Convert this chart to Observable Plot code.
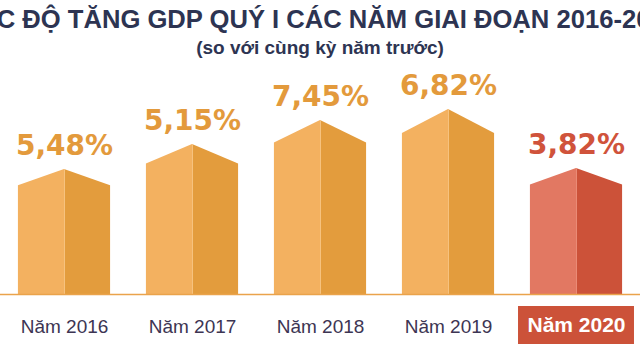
<!DOCTYPE html>
<html><head><meta charset="utf-8">
<script src="https://cdn.jsdelivr.net/npm/d3@7"></script>
<script src="https://cdn.jsdelivr.net/npm/@observablehq/plot@0.6"></script>
<style>
body{margin:0;background:#fff;}
#wrap{position:relative;width:640px;height:360px;overflow:hidden;}
#chart{position:absolute;left:0;top:0;}
#title{position:absolute;left:-200px;width:1040px;top:5px;text-align:center;white-space:nowrap;font:bold 25.6px "Liberation Sans",Arial,sans-serif;color:#2d3452;}
#sub{position:absolute;left:0;width:640px;top:37px;text-align:center;white-space:nowrap;font:bold 19px "Liberation Sans",Arial,sans-serif;color:#2d3452;}
</style></head><body>
<div id="wrap">
<div id="chart"></div>
<div id="title">TỐC ĐỘ TĂNG GDP QUÝ I CÁC NĂM GIAI ĐOẠN 2016-2020</div>
<div id="sub">(so với cùng kỳ năm trước)</div>
</div>
<script>
// Data read from the infographic
const years = ["Năm 2016", "Năm 2017", "Năm 2018", "Năm 2019", "Năm 2020"];
const growth = [5.48, 5.15, 7.45, 6.82, 3.82];           // % GDP growth, Q1
const valueLabels = ["5,48%", "5,15%", "7,45%", "6,82%", "3,82%"];
const barLevel = [6.25, 7.5, 8.7, 9.25, 6.3];          // height each bar is drawn at in the infographic
const highlight = [false, false, false, false, true];

const half = 0.36;   // half bar width in x units
const roof = 0.13;   // roof rise as share of bar level

const bars = years.map((year, i) => ({
  i, year, value: growth[i], label: valueLabels[i], peak: barLevel[i],
  side: barLevel[i] * (1 - roof), hl: highlight[i]
}));

const faces = bars.flatMap(b => {
  const light = b.hl ? "#e27862" : "#f3b160";
  const dark = b.hl ? "#cc5239" : "#e39c3d";
  return [
    {face: b.i + "L", x: b.i - half, y: b.side, color: light},
    {face: b.i + "L", x: b.i, y: b.peak, color: light},
    {face: b.i + "R", x: b.i, y: b.peak, color: dark},
    {face: b.i + "R", x: b.i + half, y: b.side, color: dark}
  ];
});

const chart = Plot.plot({
  width: 640, height: 360,
  marginLeft: 0, marginRight: 0, marginTop: 94, marginBottom: 66,
  x: {domain: [-0.5, 4.5], axis: null},
  y: {domain: [0, 10], axis: null},
  color: {type: "identity"},
  style: {fontFamily: "'Liberation Sans', Arial, sans-serif", background: "transparent", overflow: "visible"},
  marks: [
    Plot.areaY(faces, {x: "x", y1: 0, y2: "y", z: "face", fill: "color"}),
    Plot.ruleX(bars, {x: "i", y1: 0, y2: "peak", stroke: d => d.hl ? "#ea8b76" : "#f6c27f", strokeWidth: 1}),
    Plot.ruleY([0], {stroke: "#eaa34b", strokeWidth: 1.5}),
    Plot.text(bars, {x: "i", y: "peak", text: "label", lineAnchor: "bottom", dy: -15,
      fill: d => d.hl ? "#d0533b" : "#e39a3c", fontSize: 28, fontWeight: "bold",
      fontFamily: "'DejaVu Sans', sans-serif"}),
    Plot.rect(bars.filter(d => d.hl), {x1: d => d.i - 0.453, x2: d => d.i + 0.453,
      y1: () => -0.6, y2: () => -2.5, fill: "#cc5239"}),
    Plot.text(bars.filter(d => !d.hl), {x: "i", y: 0, text: "year", dy: 32, fontSize: 19, fill: "#3d3553"}),
    Plot.text(bars.filter(d => d.hl), {x: "i", y: 0, text: "year", dy: 31, fontSize: 21, fontWeight: "bold", fill: "#ffffff"})
  ]
});
document.getElementById("chart").appendChild(chart);
</script>
</body></html>
